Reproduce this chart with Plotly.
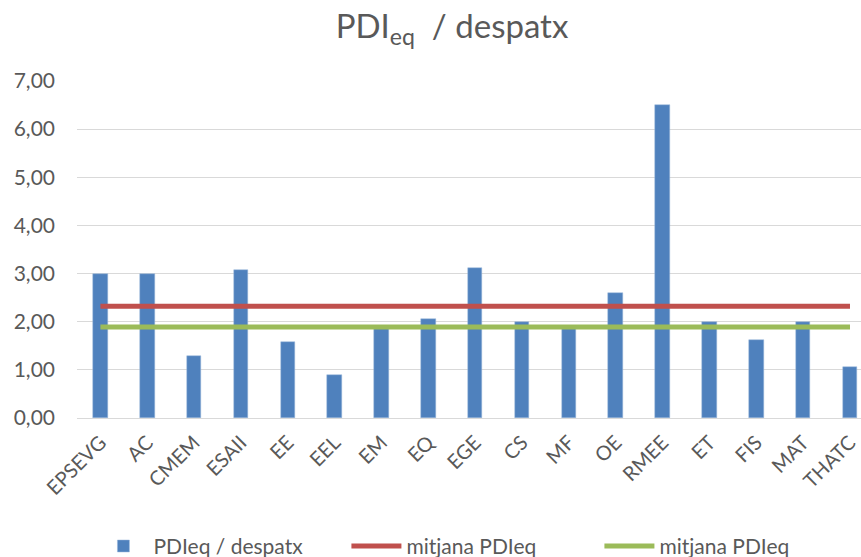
import plotly.graph_objects as go

categories = ["EPSEVG", "AC", "CMEM", "ESAII", "EE", "EEL", "EM", "EQ", "EGE",
              "CS", "MF", "OE", "RMEE", "ET", "FIS", "MAT", "THATC"]
pdi_despatx = [3.00, 3.00, 1.28, 3.08, 1.57, 0.90, 1.87, 2.06, 3.12,
               2.00, 1.87, 2.59, 6.50, 2.00, 1.61, 2.00, 1.06]
mitjana_a = [2.32] * len(categories)
mitjana_b = [1.89] * len(categories)

FONT = "Lato"
GREY = "#595959"

fig = go.Figure()
fig.add_trace(go.Bar(x=categories, y=pdi_despatx, name="PDIeq / despatx",
                     marker=dict(color="#4f81bd", line=dict(color="#9cb8dc", width=0.5)),
                     width=0.31))
fig.add_trace(go.Scatter(x=categories, y=mitjana_a, name="mitjana PDIeq", mode="lines",
                         line=dict(color="#c0504d", width=5)))
fig.add_trace(go.Scatter(x=categories, y=mitjana_b, name="mitjana PDIeq", mode="lines",
                         line=dict(color="#9bbb59", width=5)))

fig.update_layout(
    width=861, height=557,
    margin=dict(l=77, r=0, t=81, b=139, autoexpand=False),
    paper_bgcolor="white", plot_bgcolor="white",
    separators=",.",
    font=dict(family=FONT, color=GREY, size=19),
    title=dict(text="PDI<sub>eq</sub>  / despatx", x=0.525, xanchor="center",
               y=0.952, yanchor="middle", font=dict(size=33, color=GREY)),
    showlegend=True,
    legend=dict(orientation="h", x=0.505, xanchor="center", y=-0.32, yanchor="top",
                font=dict(size=21, color=GREY), traceorder="normal", itemwidth=50,
                entrywidth=188, entrywidthmode="pixels", tracegroupgap=0),
    bargap=0,
)
fig.update_xaxes(range=[-0.5, 16.235], tickangle=-45, showgrid=False, showline=False,
                 ticks="", ticklabelstandoff=8, automargin=False,
                 tickfont=dict(size=20, color=GREY))
fig.update_yaxes(range=[0, 7], dtick=1, tickformat=".2f", showgrid=True,
                 gridcolor="#d9d9d9", gridwidth=1, zeroline=True, zerolinecolor="#d9d9d9",
                 zerolinewidth=1, showline=False, ticks="", ticklabelstandoff=21,
                 automargin=False, tickfont=dict(size=21, color=GREY))

fig.write_html("out.html", config={"displayModeBar": False},
               post_script="document.body.style.margin='0';")
